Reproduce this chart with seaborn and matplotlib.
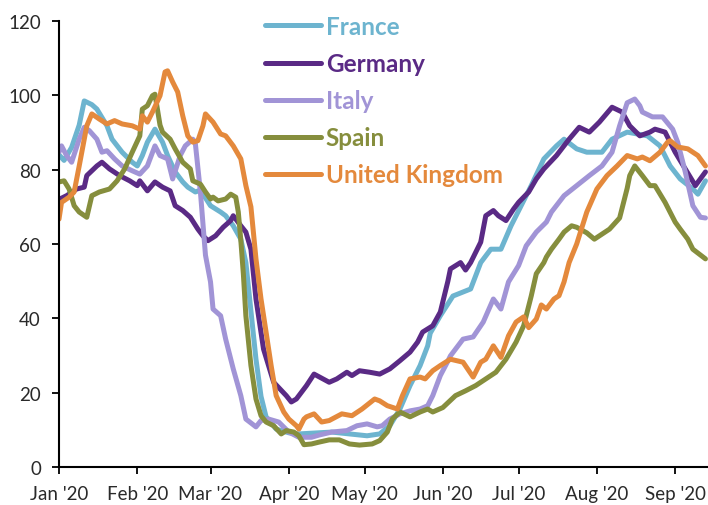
import matplotlib
matplotlib.use("Agg")

import matplotlib.dates as mdates
import matplotlib.pyplot as plt
import pandas as pd
import seaborn as sns

# ============================================================
# DATOS (días desde el 1 de enero de 2020, valor del índice)
# ============================================================
START = pd.Timestamp("2020-01-01")

france_days = [0, 2, 5, 8, 10, 13, 15, 19, 21, 25, 29, 31, 33, 35, 38, 41, 43, 46, 49, 51,
               54, 56, 60, 64, 66, 69, 72, 74, 76, 78, 80, 82, 86, 91, 95, 108, 122, 127, 131,
               135, 139, 143, 146, 147, 151, 156, 163, 167, 171, 175, 179, 183, 187, 192, 197,
               200, 205, 209, 215, 219, 225, 233, 238, 242, 246, 251, 253, 256]
france_vals = [84, 82.5, 86, 92, 98.5, 97.5, 96.3, 91.8, 88.2, 84.7, 82, 81, 83.8, 87.4, 90.9,
               87.4, 83.8, 79.4, 76.7, 75.3, 74, 74.5, 70.3, 68.6, 67.6, 64.9, 61.3, 55, 42, 29,
               19, 13.5, 10.2, 9.2, 8.9, 9.4, 8.4, 8.9, 11.1, 15.6, 21.9, 27.3, 32.6, 36, 40.7,
               46, 47.9, 55, 58.6, 58.6, 64.9, 70.3, 75.7, 82.9, 86.4, 88.2, 85.6, 84.7, 84.7,
               88.2, 90.1, 89.1, 86.4, 81, 77.5, 74.8, 73.4, 77]

germany_days = [0, 3, 7, 10, 11, 15, 17, 20, 24, 28, 31, 32, 35, 38, 41, 44, 46, 49, 52, 55,
                57, 59, 62, 65, 68, 69, 72, 74, 76, 78, 81, 85, 90, 92, 94, 98, 101, 107, 110,
                114, 116, 119, 123, 127, 131, 135, 139, 142, 144, 148, 151, 154, 155, 159, 161,
                163, 167, 169, 172, 174, 177, 180, 182, 186, 189, 192, 197, 202, 206, 210, 214,
                219, 223, 226, 230, 234, 236, 240, 244, 248, 252, 256]
germany_vals = [72, 73, 74.8, 75.3, 78.4, 81, 82, 80.2, 78.4, 77, 75.7, 77, 74.3, 76.7, 75.3,
                74.3, 70.3, 69, 67.2, 64, 62.2, 60.9, 62.2, 64.5, 66.3, 67.6, 64.9, 63.2, 58.6,
                45.2, 31.7, 22.8, 19.2, 17.5, 18.3, 21.9, 25, 22.8, 23.7, 25.5, 24.6, 25.9, 25.5,
                25, 26.4, 28.6, 30.9, 33.6, 36.3, 38, 41.7, 50, 53.3, 55, 53, 55, 60.5, 67.6, 69,
                67.6, 66.3, 69.4, 71.2, 74, 77.5, 80.2, 83.8, 88.2, 91.4, 90.1, 92.8, 96.8, 95.5,
                91.8, 89.1, 90.1, 90.9, 90.1, 84.7, 80.2, 75.7, 79.4]

italy_days = [0, 1, 3, 5, 8, 10, 12, 15, 17, 19, 22, 25, 29, 32, 35, 38, 40, 43, 45, 48, 50,
              53, 54, 56, 58, 60, 61, 64, 66, 69, 72, 74, 78, 80, 83, 87, 91, 95, 100, 103, 108,
              114, 118, 122, 126, 128, 131, 135, 139, 143, 146, 148, 151, 154, 155, 160, 164,
              168, 172, 175, 178, 182, 185, 189, 193, 195, 200, 205, 210, 215, 219, 222, 225,
              228, 230, 231, 235, 239, 243, 245, 248, 251, 254, 256]
italy_vals = [84.7, 86.4, 83.8, 82, 88.2, 91.4, 90.5, 88.2, 84.7, 85.1, 82.9, 81, 79.7, 78.8,
              81, 86.4, 83.8, 82.9, 77.5, 83.8, 86.4, 88.2, 87, 74, 57, 49.8, 42.5, 40.7, 34.4,
              26.4, 19.2, 12.9, 10.8, 12.5, 12.9, 12.1, 9.4, 8, 8, 8.6, 9.4, 9.8, 11.1, 11.6,
              10.8, 11.1, 12.9, 14.3, 15.1, 15.6, 16.5, 19.2, 24.6, 28.5, 29.9, 34.4, 35, 39,
              45.2, 42.5, 49.8, 54.2, 59.5, 63.2, 65.9, 68.6, 73, 75.7, 78.4, 81, 84.7, 91.8,
              98, 99, 97.2, 95.5, 94.2, 94.2, 90.9, 87.4, 79.4, 70.3, 67.2, 67]

spain_days = [0, 2, 4, 6, 8, 11, 13, 16, 20, 23, 26, 29, 32, 33, 35, 37, 38, 40, 41, 44, 46,
              49, 52, 53, 56, 58, 60, 61, 63, 66, 68, 70, 71, 72, 73, 74, 76, 78, 80, 82, 85,
              88, 90, 93, 95, 97, 100, 103, 107, 111, 115, 119, 124, 127, 130, 132, 135, 139,
              143, 146, 148, 152, 157, 161, 165, 169, 173, 177, 181, 184, 187, 189, 192, 193,
              195, 198, 200, 203, 205, 209, 212, 218, 222, 225, 226, 228, 231, 234, 236, 240,
              244, 246, 249, 251, 256]
spain_vals = [76.7, 77, 74.8, 70.3, 68.6, 67.2, 73, 74, 74.8, 77, 80.2, 84.7, 89.1, 96.3, 97.2,
              99.9, 100.3, 92, 90.1, 88.2, 85.6, 82, 80.2, 77, 76.1, 74, 72.1, 72.6, 71.6, 72.1,
              73.4, 72.6, 68.6, 61, 52, 40.7, 27.3, 18.3, 13.8, 12.1, 11.1, 8.9, 9.8, 9.4, 8.4,
              6, 6.2, 6.7, 7.3, 7.3, 6.2, 5.9, 6.2, 7.1, 9.4, 12.9, 14.8, 13.5, 14.8, 15.6,
              14.8, 16, 19.2, 20.5, 21.9, 23.7, 25.5, 29, 33.6, 38, 46, 52, 55, 56.5, 58.6, 61.3,
              63.2, 64.9, 64.5, 63, 61.3, 64, 67, 75, 78.4, 81, 78.4, 75.7, 75.7, 71.2, 65.9, 64,
              61.3, 58.6, 56]

uk_days = [0, 1, 4, 6, 8, 10, 11, 13, 16, 19, 22, 25, 29, 32, 33, 35, 37, 40, 42, 43, 45, 47,
           49, 51, 53, 55, 57, 58, 61, 64, 66, 69, 72, 74, 76, 77, 78, 80, 82, 84, 86, 89, 91,
           94, 95, 97, 98, 101, 104, 107, 112, 116, 120, 125, 127, 130, 134, 136, 139, 143,
           145, 148, 151, 155, 160, 164, 167, 169, 172, 175, 178, 181, 184, 186, 189, 191, 193,
           196, 198, 200, 202, 205, 209, 213, 217, 221, 225, 229, 231, 234, 238, 241, 242, 245,
           249, 253, 256]
uk_vals = [66.7, 71.2, 72.6, 74, 81, 88.2, 91.8, 95, 93.6, 92.3, 93.2, 92.3, 91.8, 90.9, 94.5,
           92.8, 95.5, 99.9, 106.3, 106.6, 103.6, 100.9, 94.5, 89.1, 87.4, 87.8, 91.8, 95,
           92.8, 89.6, 89.1, 86.4, 82.9, 75.7, 70, 63, 56, 45.2, 36.3, 27.3, 19.2, 14.8, 12.9,
           11.1, 10.2, 12.9, 13.5, 14.3, 12.1, 12.5, 14.3, 13.8, 15.6, 18.3, 17.8, 16.5, 15.6,
           19.2, 23.7, 24.2, 23.7, 25.9, 27.3, 29, 28.2, 24.2, 28.2, 29, 32.6, 29.5, 35.3, 39,
           40.4, 37.5, 39.8, 43.6, 42.5, 45.2, 46.1, 49.8, 55, 60, 68.6, 74.8, 78.4, 81, 83.8,
           82.9, 83.4, 82.4, 84.7, 87.4, 87.8, 86.1, 85.6, 83.8, 81]

countries = ["France", "Germany", "Italy", "Spain", "United Kingdom"]
series_days = [france_days, germany_days, italy_days, spain_days, uk_days]
series_vals = [france_vals, germany_vals, italy_vals, spain_vals, uk_vals]

colors = {
    "France": "#6DB4CF",
    "Germany": "#5A2A85",
    "Italy": "#A194D6",
    "Spain": "#868E3D",
    "United Kingdom": "#E4893C",
}

# ============================================================
# TABLA LARGA PARA SEABORN
# ============================================================
frames = []
for name, days, vals in zip(countries, series_days, series_vals):
    frames.append(pd.DataFrame({
        "fecha": START + pd.to_timedelta(days, unit="D"),
        "valor": vals,
        "pais": name,
    }))
df = pd.concat(frames, ignore_index=True)

sns.set_style("ticks")
plt.rcParams["font.family"] = ["Lato", "DejaVu Sans"]

fig = plt.figure(figsize=(7.08, 5.06), dpi=100)
ax = fig.add_axes([59 / 708, 1 - 468 / 506, 1 - 59 / 708, (468 - 22) / 506])

sns.lineplot(data=df, x="fecha", y="valor", hue="pais", hue_order=countries,
             palette=colors, estimator=None, linewidth=3.6, ax=ax)
for line in ax.get_lines():
    line.set_solid_joinstyle("round")
    line.set_solid_capstyle("round")

# Ejes
ax.set_ylim(0, 120)
ax.set_yticks(range(0, 121, 20))
ax.set_xlim(START, START + pd.Timedelta(days=257))
ax.xaxis.set_major_locator(mdates.MonthLocator())
ax.xaxis.set_major_formatter(mdates.DateFormatter("%b '%y"))
ax.set_xlabel("")
ax.set_ylabel("")
sns.despine(ax=ax)
for side in ["left", "bottom"]:
    ax.spines[side].set_linewidth(1.5)
    ax.spines[side].set_color("black")
ax.tick_params(axis="both", length=5, width=1.3, color="black",
               labelsize=13.5, labelcolor="#2a2a2a")
ax.tick_params(axis="y", pad=8)
ax.tick_params(axis="x", pad=8)

# Leyenda con texto en color
leg = ax.legend(loc="upper left", bbox_to_anchor=(265 / 708, 1 - 16 / 506),
                bbox_transform=fig.transFigure, frameon=False, borderpad=0,
                borderaxespad=0, handlelength=2.3, handletextpad=0.2, labelspacing=0.58,
                prop={"family": "Lato", "weight": "bold", "size": 17.5})
for text, name in zip(leg.get_texts(), countries):
    text.set_color(colors[name])
for line in leg.get_lines():
    line.set_linewidth(3.6)

fig.savefig("out.png", dpi=100)
